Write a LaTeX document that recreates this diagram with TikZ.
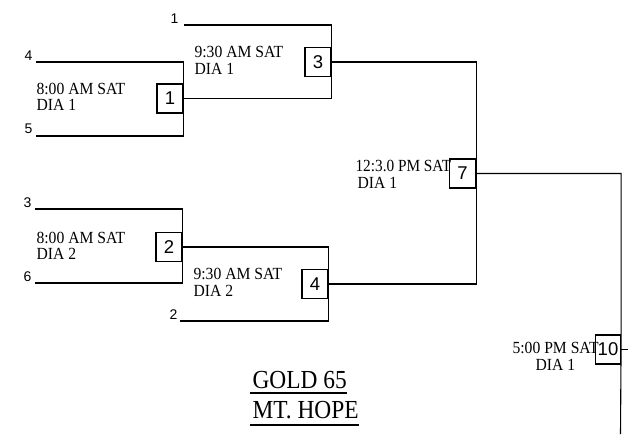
\documentclass[tikz,border=0pt]{standalone}
\usepackage{fontspec}
\setmainfont{Liberation Serif}
\newfontfamily\numfont{Liberation Sans}
\begin{document}
\begin{tikzpicture}[x=1pt,y=-1pt,line width=1.1pt,
  gbox/.style={draw,minimum width=26pt,minimum height=29pt,inner sep=0pt,
    font=\numfont\fontsize{18.5}{18.5}\selectfont},
  seed/.style={inner sep=0pt,anchor=base east,font=\numfont\fontsize{14}{14}\selectfont},
  info/.style={inner sep=0pt,anchor=base west,font=\fontsize{17}{17}\selectfont},
  ttl/.style={inner sep=0pt,anchor=base west,font=\fontsize{26}{26}\selectfont}]
\useasboundingbox (0,0) rectangle (629,434);
% game boxes
\node[gbox] (g1) at (170,98.5) {1};
\node[gbox] (g3) at (318,62) {3};
\node[gbox] (g2) at (169,247) {2};
\node[gbox] (g4) at (315,284) {4};
\node[gbox] (g7) at (462.5,173.5) {7};
\node[gbox,minimum width=25pt] (g10) at (608,349.5) {10};
% seed line ends
\coordinate (s4) at (36,62);
\coordinate (s5) at (36,136);
\coordinate (s1) at (184,25);
\coordinate (s3) at (35,209);
\coordinate (s6) at (35,283);
\coordinate (s2) at (180,321);
\coordinate (bot) at (620.5,434);
\coordinate (out10) at (628,349.5);
% seed labels
\node[seed] (l4) at (33,60) {4};
\node[seed] (l5) at (33,133) {5};
\node[seed] (l1) at (179,23) {1};
\node[seed] (l3) at (32,207) {3};
\node[seed] (l6) at (32,281) {6};
\node[seed] (l2) at (178,319) {2};
% bracket lines
\draw (s4) -| (g1.east) |- (s5);
\draw (s1) -| (g3.east) |- (g1.east);
\draw (s3) -| (g2.east) |- (s6);
\draw (g2.east) -| (g4.east) |- (s2);
\draw (g3.east) -| (g7.east) |- (g4.east);
\draw (g7.east) -| (g10.east) -- (bot);
\draw (g10.east) -- (out10);
% game info
\node[info] (t1a) at (36,94) {\scalebox{0.92}[1]{8:00 AM SAT}};
\node[info] (t1b) at (36,110) {\scalebox{0.92}[1]{DIA 1}};
\node[info] (t3a) at (194,57) {\scalebox{0.92}[1]{9:30 AM SAT}};
\node[info] (t3b) at (194,74) {\scalebox{0.92}[1]{DIA 1}};
\node[info] (t2a) at (36,243) {\scalebox{0.92}[1]{8:00 AM SAT}};
\node[info] (t2b) at (36,259) {\scalebox{0.92}[1]{DIA 2}};
\node[info] (t4a) at (193,279) {\scalebox{0.92}[1]{9:30 AM SAT}};
\node[info] (t4b) at (193,296) {\scalebox{0.92}[1]{DIA 2}};
\node[info] (t7a) at (355,171) {\scalebox{0.9}[1]{12:3.0 PM SAT}};
\node[info] (t7b) at (357,188) {\scalebox{0.92}[1]{DIA 1}};
\node[info] (t10a) at (512,353) {\scalebox{0.92}[1]{5:00 PM SAT}};
\node[info] (t10b) at (535,370) {\scalebox{0.92}[1]{DIA 1}};
% title
\node[ttl] (gold) at (252,388) {\scalebox{0.9}[1]{GOLD 65}};
\node[ttl] (hope) at (252,418) {\scalebox{0.9}[1]{MT. HOPE}};
\draw ([xshift=-2pt,yshift=-5pt]gold.base west) -- ([yshift=-5pt]gold.base east);
\draw ([xshift=-2pt,yshift=-7pt]hope.base west) -- ([yshift=-7pt]hope.base east);
\end{tikzpicture}
\end{document}
